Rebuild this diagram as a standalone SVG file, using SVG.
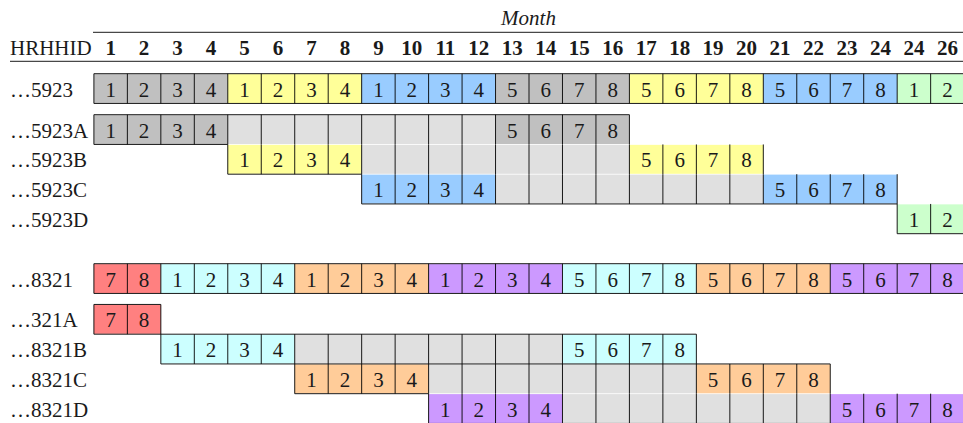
<svg xmlns="http://www.w3.org/2000/svg" width="963" height="423" viewBox="0 0 963 423">
<style>
text{font-family:"Liberation Serif","DejaVu Serif",serif;font-size:21px;fill:#1a1a1a}
.c{text-anchor:middle}
.h{text-anchor:middle;font-weight:bold}
.m{text-anchor:middle;font-style:italic}
.ln{fill:none;stroke:#000;stroke-width:0.9}
.dg{fill:#c0c0c0}.lg{fill:#e0e0e0}.ye{fill:#ffff99}.bl{fill:#99ccff}.gr{fill:#ccffcc}
.rd{fill:#ff8080}.cy{fill:#ccffff}.or{fill:#ffcc99}.pu{fill:#cc99ff}
</style>
<g id="header">
<text class="m" x="528.5" y="25">Month</text>
<text x="10" y="55">HRHHID</text>
<text class="h" x="110.64" y="55">1</text><text class="h" x="144.11" y="55">2</text><text class="h" x="177.58" y="55">3</text><text class="h" x="211.05" y="55">4</text><text class="h" x="244.52" y="55">5</text><text class="h" x="277.99" y="55">6</text><text class="h" x="311.46" y="55">7</text><text class="h" x="344.93" y="55">8</text><text class="h" x="378.4" y="55">9</text><text class="h" x="411.87" y="55">10</text><text class="h" x="445.34" y="55">11</text><text class="h" x="478.81" y="55">12</text><text class="h" x="512.28" y="55">13</text><text class="h" x="545.75" y="55">14</text><text class="h" x="579.22" y="55">15</text><text class="h" x="612.69" y="55">16</text><text class="h" x="646.16" y="55">17</text><text class="h" x="679.63" y="55">18</text><text class="h" x="713.1" y="55">19</text><text class="h" x="746.57" y="55">20</text><text class="h" x="780.04" y="55">21</text><text class="h" x="813.51" y="55">22</text><text class="h" x="846.98" y="55">23</text><text class="h" x="880.45" y="55">24</text><text class="h" x="913.92" y="55">24</text><text class="h" x="947.39" y="55">26</text>
</g>
<g id="row-5923">
<rect class="dg" x="93.9" y="74.1" width="133.88" height="28.95"/><rect class="ye" x="227.78" y="74.1" width="133.88" height="28.95"/><rect class="bl" x="361.66" y="74.1" width="133.88" height="28.95"/><rect class="dg" x="495.54" y="74.1" width="133.88" height="28.95"/><rect class="ye" x="629.42" y="74.1" width="133.88" height="28.95"/><rect class="bl" x="763.3" y="74.1" width="133.88" height="28.95"/><rect class="gr" x="897.18" y="74.1" width="66.94" height="28.95"/>
<path class="ln" d="M93.9 73.7v29.75m33.47-29.75v29.75m33.47-29.75v29.75m33.47-29.75v29.75m33.47-29.75v29.75m33.47-29.75v29.75m33.47-29.75v29.75m33.47-29.75v29.75m33.47-29.75v29.75m33.47-29.75v29.75m33.47-29.75v29.75m33.47-29.75v29.75m33.47-29.75v29.75m33.47-29.75v29.75m33.47-29.75v29.75m33.47-29.75v29.75m33.47-29.75v29.75m33.47-29.75v29.75m33.47-29.75v29.75m33.47-29.75v29.75m33.47-29.75v29.75m33.47-29.75v29.75m33.47-29.75v29.75m33.47-29.75v29.75m33.47-29.75v29.75m33.47-29.75v29.75m33.47-29.75v29.75"/>
<text x="10" y="96.7">…5923</text>
<text class="c" x="110.64" y="96.7">1</text><text class="c" x="144.11" y="96.7">2</text><text class="c" x="177.58" y="96.7">3</text><text class="c" x="211.05" y="96.7">4</text><text class="c" x="244.52" y="96.7">1</text><text class="c" x="277.99" y="96.7">2</text><text class="c" x="311.46" y="96.7">3</text><text class="c" x="344.93" y="96.7">4</text><text class="c" x="378.4" y="96.7">1</text><text class="c" x="411.87" y="96.7">2</text><text class="c" x="445.34" y="96.7">3</text><text class="c" x="478.81" y="96.7">4</text><text class="c" x="512.28" y="96.7">5</text><text class="c" x="545.75" y="96.7">6</text><text class="c" x="579.22" y="96.7">7</text><text class="c" x="612.69" y="96.7">8</text><text class="c" x="646.16" y="96.7">5</text><text class="c" x="679.63" y="96.7">6</text><text class="c" x="713.1" y="96.7">7</text><text class="c" x="746.57" y="96.7">8</text><text class="c" x="780.04" y="96.7">5</text><text class="c" x="813.51" y="96.7">6</text><text class="c" x="846.98" y="96.7">7</text><text class="c" x="880.45" y="96.7">8</text><text class="c" x="913.92" y="96.7">1</text><text class="c" x="947.39" y="96.7">2</text>
</g>
<g id="row-5923A">
<rect class="dg" x="93.9" y="115.1" width="133.88" height="28.95"/><rect class="lg" x="227.78" y="115.1" width="267.76" height="28.95"/><rect class="dg" x="495.54" y="115.1" width="133.88" height="28.95"/>
<path class="ln" d="M93.9 114.7v29.75m33.47-29.75v29.75m33.47-29.75v29.75m33.47-29.75v29.75m33.47-29.75v29.75m33.47-29.75v29.75m33.47-29.75v29.75m33.47-29.75v29.75m33.47-29.75v29.75m33.47-29.75v29.75m33.47-29.75v29.75m33.47-29.75v29.75m33.47-29.75v29.75m33.47-29.75v29.75m33.47-29.75v29.75m33.47-29.75v29.75m33.47-29.75v29.75"/>
<text x="10" y="137.7">…5923A</text>
<text class="c" x="110.64" y="137.7">1</text><text class="c" x="144.11" y="137.7">2</text><text class="c" x="177.58" y="137.7">3</text><text class="c" x="211.05" y="137.7">4</text><text class="c" x="512.28" y="137.7">5</text><text class="c" x="545.75" y="137.7">6</text><text class="c" x="579.22" y="137.7">7</text><text class="c" x="612.69" y="137.7">8</text>
</g>
<g id="row-5923B">
<rect class="ye" x="227.78" y="144.85" width="133.88" height="28.95"/><rect class="lg" x="361.66" y="144.85" width="267.76" height="28.95"/><rect class="ye" x="629.42" y="144.85" width="133.88" height="28.95"/>
<path class="ln" d="M227.78 144.45v29.75m33.47-29.75v29.75m33.47-29.75v29.75m33.47-29.75v29.75m33.47-29.75v29.75m33.47-29.75v29.75m33.47-29.75v29.75m33.47-29.75v29.75m33.47-29.75v29.75m33.47-29.75v29.75m33.47-29.75v29.75m33.47-29.75v29.75m33.47-29.75v29.75m33.47-29.75v29.75m33.47-29.75v29.75m33.47-29.75v29.75m33.47-29.75v29.75"/>
<text x="10" y="167.45">…5923B</text>
<text class="c" x="244.52" y="167.45">1</text><text class="c" x="277.99" y="167.45">2</text><text class="c" x="311.46" y="167.45">3</text><text class="c" x="344.93" y="167.45">4</text><text class="c" x="646.16" y="167.45">5</text><text class="c" x="679.63" y="167.45">6</text><text class="c" x="713.1" y="167.45">7</text><text class="c" x="746.57" y="167.45">8</text>
</g>
<g id="row-5923C">
<rect class="bl" x="361.66" y="174.6" width="133.88" height="28.95"/><rect class="lg" x="495.54" y="174.6" width="267.76" height="28.95"/><rect class="bl" x="763.3" y="174.6" width="133.88" height="28.95"/>
<path class="ln" d="M361.66 174.2v29.75m33.47-29.75v29.75m33.47-29.75v29.75m33.47-29.75v29.75m33.47-29.75v29.75m33.47-29.75v29.75m33.47-29.75v29.75m33.47-29.75v29.75m33.47-29.75v29.75m33.47-29.75v29.75m33.47-29.75v29.75m33.47-29.75v29.75m33.47-29.75v29.75m33.47-29.75v29.75m33.47-29.75v29.75m33.47-29.75v29.75m33.47-29.75v29.75"/>
<text x="10" y="197.2">…5923C</text>
<text class="c" x="378.4" y="197.2">1</text><text class="c" x="411.87" y="197.2">2</text><text class="c" x="445.34" y="197.2">3</text><text class="c" x="478.81" y="197.2">4</text><text class="c" x="780.04" y="197.2">5</text><text class="c" x="813.51" y="197.2">6</text><text class="c" x="846.98" y="197.2">7</text><text class="c" x="880.45" y="197.2">8</text>
</g>
<g id="row-5923D">
<rect class="gr" x="897.18" y="204.35" width="66.94" height="28.95"/>
<path class="ln" d="M897.18 203.95v29.75m33.47-29.75v29.75m33.47-29.75v29.75"/>
<text x="10" y="226.95">…5923D</text>
<text class="c" x="913.92" y="226.95">1</text><text class="c" x="947.39" y="226.95">2</text>
</g>
<g id="row-8321">
<rect class="rd" x="93.9" y="264.1" width="66.94" height="28.95"/><rect class="cy" x="160.84" y="264.1" width="133.88" height="28.95"/><rect class="or" x="294.72" y="264.1" width="133.88" height="28.95"/><rect class="pu" x="428.6" y="264.1" width="133.88" height="28.95"/><rect class="cy" x="562.48" y="264.1" width="133.88" height="28.95"/><rect class="or" x="696.36" y="264.1" width="133.88" height="28.95"/><rect class="pu" x="830.24" y="264.1" width="133.88" height="28.95"/>
<path class="ln" d="M93.9 263.7v29.75m33.47-29.75v29.75m33.47-29.75v29.75m33.47-29.75v29.75m33.47-29.75v29.75m33.47-29.75v29.75m33.47-29.75v29.75m33.47-29.75v29.75m33.47-29.75v29.75m33.47-29.75v29.75m33.47-29.75v29.75m33.47-29.75v29.75m33.47-29.75v29.75m33.47-29.75v29.75m33.47-29.75v29.75m33.47-29.75v29.75m33.47-29.75v29.75m33.47-29.75v29.75m33.47-29.75v29.75m33.47-29.75v29.75m33.47-29.75v29.75m33.47-29.75v29.75m33.47-29.75v29.75m33.47-29.75v29.75m33.47-29.75v29.75m33.47-29.75v29.75m33.47-29.75v29.75"/>
<text x="10" y="286.7">…8321</text>
<text class="c" x="110.64" y="286.7">7</text><text class="c" x="144.11" y="286.7">8</text><text class="c" x="177.58" y="286.7">1</text><text class="c" x="211.05" y="286.7">2</text><text class="c" x="244.52" y="286.7">3</text><text class="c" x="277.99" y="286.7">4</text><text class="c" x="311.46" y="286.7">1</text><text class="c" x="344.93" y="286.7">2</text><text class="c" x="378.4" y="286.7">3</text><text class="c" x="411.87" y="286.7">4</text><text class="c" x="445.34" y="286.7">1</text><text class="c" x="478.81" y="286.7">2</text><text class="c" x="512.28" y="286.7">3</text><text class="c" x="545.75" y="286.7">4</text><text class="c" x="579.22" y="286.7">5</text><text class="c" x="612.69" y="286.7">6</text><text class="c" x="646.16" y="286.7">7</text><text class="c" x="679.63" y="286.7">8</text><text class="c" x="713.1" y="286.7">5</text><text class="c" x="746.57" y="286.7">6</text><text class="c" x="780.04" y="286.7">7</text><text class="c" x="813.51" y="286.7">8</text><text class="c" x="846.98" y="286.7">5</text><text class="c" x="880.45" y="286.7">6</text><text class="c" x="913.92" y="286.7">7</text><text class="c" x="947.39" y="286.7">8</text>
</g>
<g id="row-321A">
<rect class="rd" x="93.9" y="304.85" width="66.94" height="28.95"/>
<path class="ln" d="M93.9 304.45v29.75m33.47-29.75v29.75m33.47-29.75v29.75"/>
<text x="10" y="327.45">…321A</text>
<text class="c" x="110.64" y="327.45">7</text><text class="c" x="144.11" y="327.45">8</text>
</g>
<g id="row-8321B">
<rect class="cy" x="160.84" y="334.6" width="133.88" height="28.95"/><rect class="lg" x="294.72" y="334.6" width="267.76" height="28.95"/><rect class="cy" x="562.48" y="334.6" width="133.88" height="28.95"/>
<path class="ln" d="M160.84 334.2v29.75m33.47-29.75v29.75m33.47-29.75v29.75m33.47-29.75v29.75m33.47-29.75v29.75m33.47-29.75v29.75m33.47-29.75v29.75m33.47-29.75v29.75m33.47-29.75v29.75m33.47-29.75v29.75m33.47-29.75v29.75m33.47-29.75v29.75m33.47-29.75v29.75m33.47-29.75v29.75m33.47-29.75v29.75m33.47-29.75v29.75m33.47-29.75v29.75"/>
<text x="10" y="357.2">…8321B</text>
<text class="c" x="177.58" y="357.2">1</text><text class="c" x="211.05" y="357.2">2</text><text class="c" x="244.52" y="357.2">3</text><text class="c" x="277.99" y="357.2">4</text><text class="c" x="579.22" y="357.2">5</text><text class="c" x="612.69" y="357.2">6</text><text class="c" x="646.16" y="357.2">7</text><text class="c" x="679.63" y="357.2">8</text>
</g>
<g id="row-8321C">
<rect class="or" x="294.72" y="364.35" width="133.88" height="28.95"/><rect class="lg" x="428.6" y="364.35" width="267.76" height="28.95"/><rect class="or" x="696.36" y="364.35" width="133.88" height="28.95"/>
<path class="ln" d="M294.72 363.95v29.75m33.47-29.75v29.75m33.47-29.75v29.75m33.47-29.75v29.75m33.47-29.75v29.75m33.47-29.75v29.75m33.47-29.75v29.75m33.47-29.75v29.75m33.47-29.75v29.75m33.47-29.75v29.75m33.47-29.75v29.75m33.47-29.75v29.75m33.47-29.75v29.75m33.47-29.75v29.75m33.47-29.75v29.75m33.47-29.75v29.75m33.47-29.75v29.75"/>
<text x="10" y="386.95">…8321C</text>
<text class="c" x="311.46" y="386.95">1</text><text class="c" x="344.93" y="386.95">2</text><text class="c" x="378.4" y="386.95">3</text><text class="c" x="411.87" y="386.95">4</text><text class="c" x="713.1" y="386.95">5</text><text class="c" x="746.57" y="386.95">6</text><text class="c" x="780.04" y="386.95">7</text><text class="c" x="813.51" y="386.95">8</text>
</g>
<g id="row-8321D">
<rect class="pu" x="428.6" y="394.1" width="133.88" height="28.95"/><rect class="lg" x="562.48" y="394.1" width="267.76" height="28.95"/><rect class="pu" x="830.24" y="394.1" width="133.88" height="28.95"/>
<path class="ln" d="M428.6 393.7v29.75m33.47-29.75v29.75m33.47-29.75v29.75m33.47-29.75v29.75m33.47-29.75v29.75m33.47-29.75v29.75m33.47-29.75v29.75m33.47-29.75v29.75m33.47-29.75v29.75m33.47-29.75v29.75m33.47-29.75v29.75m33.47-29.75v29.75m33.47-29.75v29.75m33.47-29.75v29.75m33.47-29.75v29.75m33.47-29.75v29.75m33.47-29.75v29.75"/>
<text x="10" y="416.7">…8321D</text>
<text class="c" x="445.34" y="416.7">1</text><text class="c" x="478.81" y="416.7">2</text><text class="c" x="512.28" y="416.7">3</text><text class="c" x="545.75" y="416.7">4</text><text class="c" x="846.98" y="416.7">5</text><text class="c" x="880.45" y="416.7">6</text><text class="c" x="913.92" y="416.7">7</text><text class="c" x="947.39" y="416.7">8</text>
</g>
<g id="rules">
<path class="ln" d="M93 32.3H963M10 61.3H963"/>
<path class="ln" d="M93.9 73.7H964.12M93.9 103.45H964.12M93.9 114.7H629.42M93.9 144.45H227.78M227.78 174.2H361.66M361.66 203.95H897.18M897.18 233.7H964.12M93.9 263.7H964.12M93.9 293.45H964.12M93.9 304.45H160.84M93.9 334.2H696.36M160.84 363.95H830.24M294.72 393.7H428.6M428.6 423.45H964.12"/>
</g>
</svg>
